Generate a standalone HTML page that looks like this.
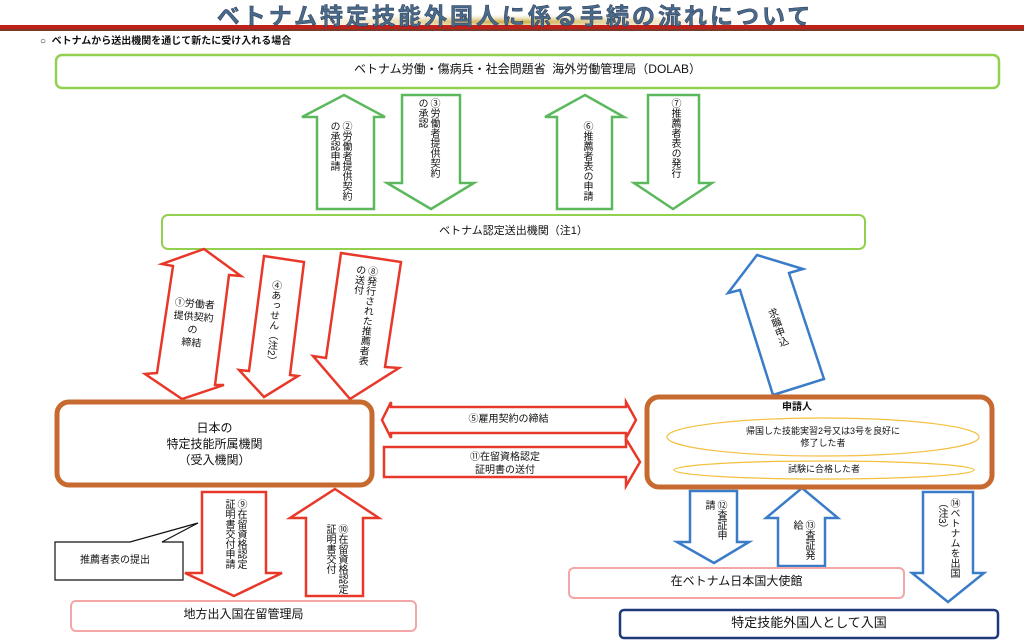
<!DOCTYPE html>
<html><head><meta charset="utf-8"><style>
body{margin:0;width:1024px;height:644px;overflow:hidden;background:#fff;font-family:"Liberation Sans","Noto Sans CJK JP",sans-serif;}
#w{position:relative;width:1024px;height:644px;}
svg{position:absolute;left:0;top:0;}
.t{position:absolute;color:#111;white-space:nowrap;line-height:1.15;}
.v{position:absolute;writing-mode:vertical-rl;font-size:10px;color:#111;line-height:12px;white-space:nowrap;}
.c{text-align:center;}
</style></head><body><div id="w">
<svg width="1024" height="644">
<defs><radialGradient id="g" cx="50%" cy="50%" r="50%"><stop offset="0" stop-color="#c8a83a"/><stop offset="1" stop-color="#fff" stop-opacity="0"/></radialGradient></defs>
<ellipse cx="515" cy="22" rx="300" ry="9" fill="url(#g)"/>
<rect x="0" y="25" width="1024" height="4" fill="#c0201a"/>
<rect x="0" y="29" width="1024" height="2" fill="#7a3a2a"/>
<g fill="#fff" stroke-linejoin="miter">
<rect x="56" y="55" width="943" height="33" rx="6" stroke="#92d050" stroke-width="2.5"/>
<rect x="162" y="215" width="703" height="34" rx="6" stroke="#92d050" stroke-width="2"/>
<g stroke="#5cb85c" stroke-width="2.5">
<polygon points="344,95 385,117 374,117 374,209 317,209 317,117 302,117"/>
<polygon points="402,95 460,95 460,183 474,183 431,209 387,183 402,183"/>
<polygon points="585,95 624,117 612,117 612,209 557,209 557,117 545,117"/>
<polygon points="648,95 699,95 699,183 712,183 673,209 634,183 648,183"/>
</g>
<g stroke="#e8382a" stroke-width="2.5">
<polygon points="204,249 241,276 229,275 215,385 224,385 182,399 145,374 157,373 173,266 162,264"/>
<polygon points="264,256 304,262 290,375 298,376 264,397 239,370 249,371"/>
<polygon points="341,253 401,262 385,367 399,368 350,399 313,356 326,358"/>
<polygon points="382,420 391,402 391,407 626,407 626,402 636,420 626,438 626,433 391,433 391,438"/>
<polygon points="384,447 626,447 626,439 640,462 626,486 626,477 384,477"/>
<polygon points="202,492 266,492 266,573 282,573 234,596 185,573 202,573"/>
<polygon points="335,489 379,518 363,518 363,596 306,596 306,518 290,518"/>
</g>
<g stroke="#3a7cc8" stroke-width="2.5">
<polygon points="757,255 803,269 789,273 824,379 773,395 740,290 728,293"/>
<polygon points="690,491 737,491 737,542 749,542 714,563 677,542 690,542"/>
<polygon points="802,488 838,518 825,518 825,566 778,566 778,518 766,518"/>
<polygon points="923,492 973,492 973,573 984,573 948,602 912,573 923,573"/>
</g>
<rect x="57" y="402" width="315" height="83" rx="12" stroke="#c76a2f" stroke-width="5"/>
<rect x="647" y="397" width="345" height="90" rx="12" stroke="#c76a2f" stroke-width="5"/>
<ellipse cx="823" cy="437" rx="156" ry="19" stroke="#f4c040" stroke-width="1.2"/>
<ellipse cx="824" cy="470" rx="150" ry="9" stroke="#f4c040" stroke-width="1.2"/>
<polygon points="55,542 130,542 198,523 162,542 183,542 183,580 55,580" stroke="#111" stroke-width="1.2"/>
<rect x="71" y="601" width="345" height="30" rx="5" stroke="#f4a6a6" stroke-width="2"/>
<rect x="569" y="568" width="335" height="30" rx="5" stroke="#f4a6a6" stroke-width="2"/>
<rect x="620" y="610" width="378" height="28" rx="4" stroke="#1f3a7a" stroke-width="2.5"/>
</g>
</svg>
<div class="t" style="left:215px;top:3px;width:600px;text-align:center;font-size:23px;font-weight:bold;color:#4a6a8a;letter-spacing:3px;-webkit-text-stroke:0.5px #2a3a5a;">ベトナム特定技能外国人に係る手続の流れについて</div>
<div class="t" style="left:40px;top:36px;font-size:10px;font-weight:bold;">○&nbsp; ベトナムから送出機関を通じて新たに受け入れる場合</div>
<div class="t c" style="left:56px;top:63px;width:943px;font-size:12px;">ベトナム労働・傷病兵・社会問題省&nbsp; 海外労働管理局（DOLAB）</div>
<div class="t c" style="left:162px;top:225px;width:703px;font-size:11px;">ベトナム認定送出機関（注1）</div>
<div class="v" style="left:327px;top:121px;">②労働者提供契約<br>の承認申請</div>
<div class="v" style="left:415px;top:98px;">③労働者提供契約<br>の承認</div>
<div class="v" style="left:580px;top:121px;">⑥推薦者表の申請</div>
<div class="v" style="left:668px;top:98px;">⑦推薦者表の発行</div>
<div class="t c" style="left:163px;top:298px;width:60px;font-size:10px;transform:rotate(5deg);line-height:13px;">①労働者<br>提供契約<br>の<br>締結</div>
<div class="v" style="left:266px;top:280px;transform:rotate(4deg);">④あっせん（注2）</div>
<div class="v" style="left:348px;top:265px;transform:rotate(6deg);">⑧発行された推薦者表<br>の送付</div>
<div class="t c" style="left:57px;top:420px;width:315px;font-size:12px;line-height:16px;">日本の<br>特定技能所属機関<br>（受入機関）</div>
<div class="t c" style="left:391px;top:414px;width:235px;font-size:10px;">⑤雇用契約の締結</div>
<div class="t c" style="left:384px;top:451px;width:242px;font-size:10px;line-height:13px;">⑪在留資格認定<br>証明書の送付</div>
<div class="v" style="left:222px;top:499px;">⑨在留資格認定<br>証明書交付申請</div>
<div class="v" style="left:323px;top:524px;">⑩在留資格認定<br>証明書交付</div>
<div class="t" style="left:80px;top:555px;font-size:10px;">推薦者表の提出</div>
<div class="t c" style="left:71px;top:608px;width:345px;font-size:12px;">地方出入国在留管理局</div>
<div class="v" style="left:770px;top:308px;transform:rotate(-20deg);">求職申込</div>
<div class="t c" style="left:747px;top:402px;width:100px;font-size:10px;font-weight:bold;">申請人</div>
<div class="t c" style="left:680px;top:425px;width:286px;font-size:9px;line-height:12px;">帰国した技能実習2号又は3号を良好に<br>修了した者</div>
<div class="t c" style="left:680px;top:464px;width:288px;font-size:9px;">試験に合格した者</div>
<div class="v" style="left:702px;top:500px;">⑫査証申<br>請</div>
<div class="v" style="left:790px;top:520px;">⑬査証発<br>給</div>
<div class="v" style="left:935px;top:498px;">⑭ベトナムを出国<br>（注3）</div>
<div class="t c" style="left:569px;top:575px;width:335px;font-size:12px;">在ベトナム日本国大使館</div>
<div class="t c" style="left:620px;top:616px;width:378px;font-size:13px;">特定技能外国人として入国</div>
</div></body></html>
